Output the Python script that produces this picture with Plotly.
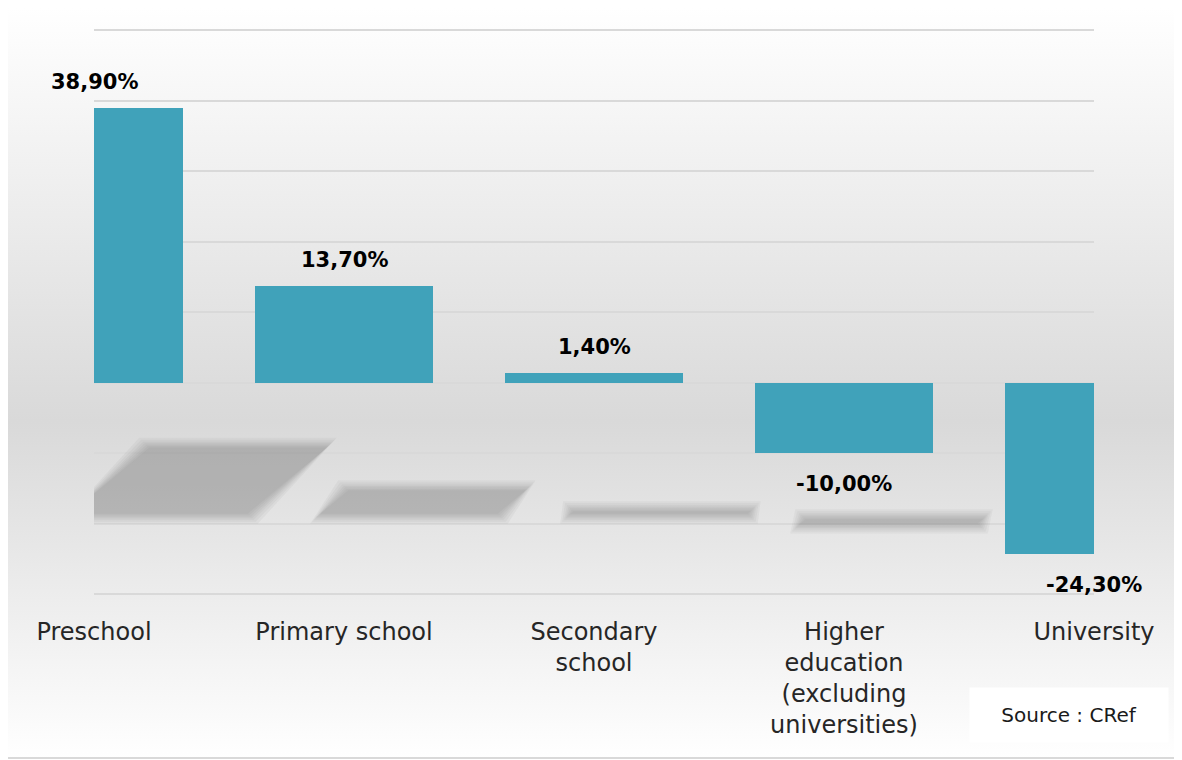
import base64
import plotly.graph_objects as go

# ---------------- data ----------------
categories = ["Preschool", "Primary school", "Secondary<br>school",
              "Higher<br>education<br>(excluding<br>universities)", "University"]
values = [38.9, 13.7, 1.4, -10.0, -24.3]
grid_values = [-30, -20, -10, 0, 10, 20, 30, 40, 50]
source_text = "Source : CRef"

# ---------------- layout constants ----------------
OFF = 8                      # page body margin of the html page
EXT = 4                      # extra px so edge gridlines are drawn
W, H = 1182 - OFF, 760 - OFF
ML, MR, MT, MB = 94 - OFF, 88, 30 - OFF - EXT, 166 - EXT
PW, PH = W - ML - MR, H - MT - MB
BAR_COLOR = "#40A2BA"
FONT = "DejaVu Sans"
YMIN, YMAX = -30, 50
yu = (PH - 2 * EXT) / (YMAX - YMIN)   # px per y unit
D = EXT / yu
BAR_W = 0.71
xu = PW / 4.0                          # px per x unit

xs = list(range(len(categories)))
labels = [f"{v:.2f}".replace(".", ",") + "%" for v in values]

fig = go.Figure()
fig.add_trace(go.Bar(x=xs, y=values, width=BAR_W, marker=dict(color=BAR_COLOR, line=dict(width=0)),
                     hoverinfo="skip"))

# background gradient (decorative)
svg = f'''<svg xmlns="http://www.w3.org/2000/svg" width="{W}" height="{H}" viewBox="0 0 {W} {H}" preserveAspectRatio="none">
<defs><linearGradient id="g" x1="0" y1="0" x2="0" y2="1">
<stop offset="0" stop-color="#ffffff"/><stop offset="0.55" stop-color="#d9d9d9"/><stop offset="1" stop-color="#ffffff"/>
</linearGradient></defs><rect x="0" y="0" width="{W}" height="{H}" fill="url(#g)"/></svg>'''
src = "data:image/svg+xml;base64," + base64.b64encode(svg.encode()).decode()
fig.add_layout_image(dict(source=src, xref="paper", yref="paper", x=-ML / PW, y=1 + MT / PH,
                          sizex=W / PW, sizey=H / PH, sizing="stretch", layer="below",
                          xanchor="left", yanchor="top"))

# soft reflection shadows derived from bar values (decorative)
shapes = []
for i, v in enumerate(values):
    if v > 0:
        base = -18.6
        top = base + 0.24 * v
        shift_b = 0.26
        shift_t = shift_b + 1.2 * (top - base) * yu / xu
    else:
        base = -20.0
        top = base + 0.06 * abs(v)
        shift_b = 0.18
        shift_t = 0.20
    for e_px in [10, 8, 6, 4.5, 3, 1.5, 0]:
        ex, ey = e_px / xu, e_px / yu
        x0b, x1b = i - BAR_W / 2 + shift_b - ex, i + BAR_W / 2 + shift_b + ex
        x0t, x1t = i - BAR_W / 2 + shift_t - ex, i + BAR_W / 2 + shift_t + ex
        yb, yt = base - ey, top + ey
        path = f"M {x0b},{yb} L {x1b},{yb} L {x1t},{yt} L {x0t},{yt} Z"
        shapes.append(dict(type="path", path=path, xref="x", yref="y", layer="between",
                           fillcolor="rgba(90,90,90,0.055)", line=dict(width=0)))

# outer border (right and bottom edges visible in page)
border = dict(color="#d9d9d9", width=2)
shapes.append(dict(type="line", xref="paper", yref="paper",
                   x0=(W - 1 - ML) / PW, x1=(W - 1 - ML) / PW,
                   y0=(MT + PH - (H - 2)) / PH, y1=1 + MT / PH, line=border))
shapes.append(dict(type="line", xref="paper", yref="paper",
                   x0=-ML / PW, x1=(W - 1 - ML) / PW,
                   y0=(MT + PH - (H - 2)) / PH, y1=(MT + PH - (H - 2)) / PH, line=border))

annotations = []
for i, (v, t) in enumerate(zip(values, labels)):
    annotations.append(dict(x=i, y=v, xref="x", yref="y", text=t, showarrow=False,
                            yanchor="bottom" if v >= 0 else "top",
                            yshift=12 if v >= 0 else -17,
                            font=dict(family=FONT, size=21, color="#000000", weight="bold")))

# source box
annotations.append(dict(xref="paper", yref="paper", x=(1069 - OFF - ML) / PW, y=(MT + PH - (715 - OFF)) / PH,
                        xanchor="center", yanchor="middle", text=source_text, showarrow=False,
                        bgcolor="#ffffff", width=198, height=54, borderpad=0,
                        font=dict(family=FONT, size=20, color="#1a1a1a")))

fig.update_layout(
    width=W, height=H, margin=dict(l=ML, r=MR, t=MT, b=MB, pad=0),
    paper_bgcolor="#ffffff", plot_bgcolor="rgba(0,0,0,0)",
    showlegend=False, shapes=shapes, annotations=annotations,
    bargap=0,
    font=dict(family=FONT),
)
fig.update_xaxes(range=[0, 4], tickmode="array", tickvals=xs, ticktext=categories,
                 showgrid=False, zeroline=False, showline=False,
                 ticks="outside", ticklen=16 - EXT, tickcolor="rgba(0,0,0,0)",
                 tickfont=dict(family=FONT, size=24, color="#262626"), tickangle=0)
fig.update_yaxes(range=[YMIN - D, YMAX + D], tickvals=grid_values,
                 showticklabels=False,
                 showgrid=True, gridcolor="#d9d9d9", gridwidth=1.6, zeroline=False, showline=False)

fig.write_html("out.html")
